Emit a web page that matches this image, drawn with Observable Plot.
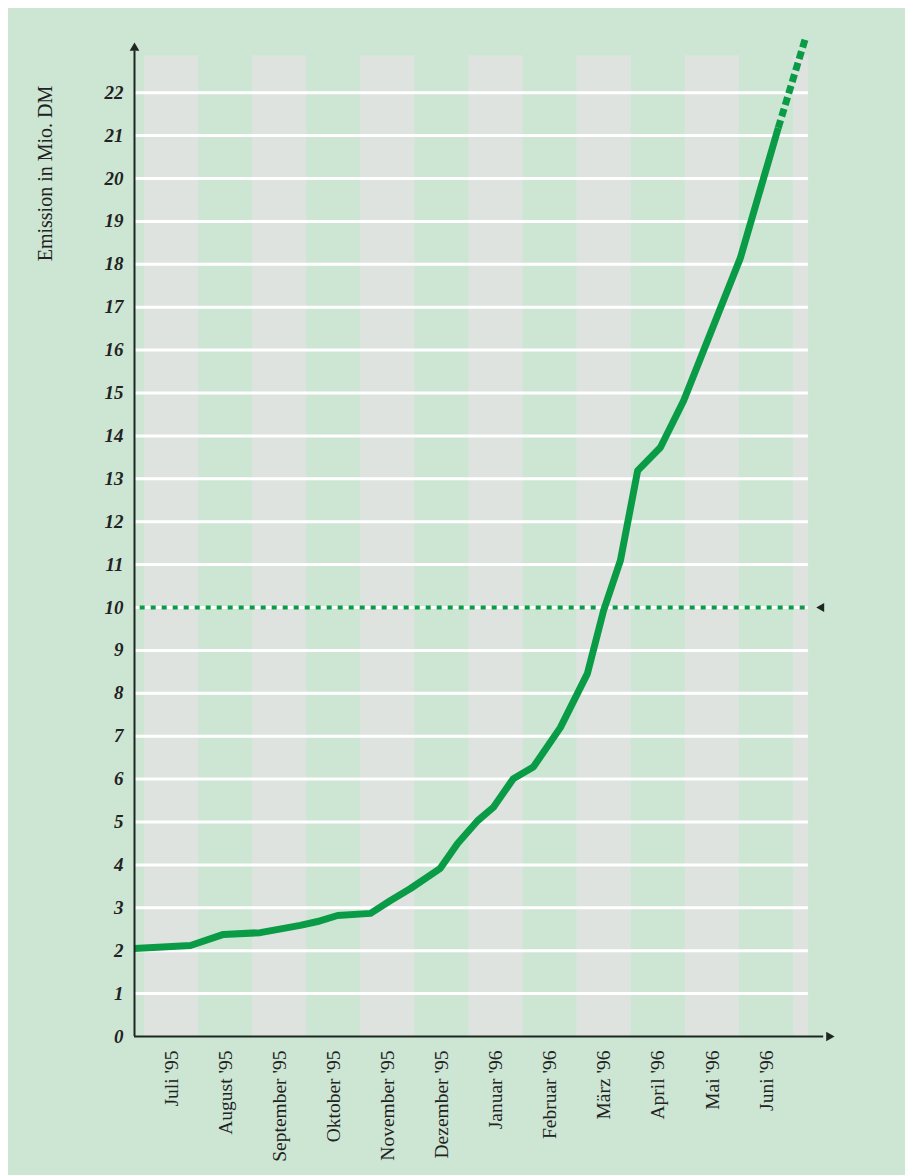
<!DOCTYPE html>
<html>
<head>
<meta charset="utf-8">
<script src="https://cdn.jsdelivr.net/npm/d3@7"></script>
<script src="https://cdn.jsdelivr.net/npm/@observablehq/plot@0.6"></script>
<style>
  html, body { margin: 0; padding: 0; background: #ffffff; }
  #chart { position: absolute; left: 8px; top: 8px; }
  #chart svg { display: block; background: #cde6d4; }
</style>
</head>
<body>
<div id="chart"></div>
<script>
// ---- data ----
const months = ["Juli '95", "August '95", "September '95", "Oktober '95", "November '95", "Dezember '95",
                "Januar '96", "Februar '96", "März '96", "April '96", "Mai '96", "Juni '96"];
// position in months from start of Juli '95 (0 = 1 July 1995)
const time = [-0.185, 0.85, 1.46, 2.14, 2.88, 3.2, 3.57, 4.18, 4.55, 4.92, 5.47, 5.79, 6.16, 6.45,
              6.82, 7.19, 7.69, 8.19, 8.49, 8.8, 9.12, 9.54, 9.97, 11.02, 11.72];
const emission = [2.05, 2.12, 2.38, 2.42, 2.59, 2.68, 2.82, 2.87, 3.17, 3.45, 3.92, 4.5, 5.03, 5.34,
                  6.01, 6.28, 7.2, 8.46, 9.93, 11.09, 13.19, 13.73, 14.82, 18.15, 21.18];
const projTime = [11.72, 12.22];
const projEmission = [21.18, 23.26];
const target = 10;
const yTicks = d3.range(0, 23);
const gridValues = d3.range(1, 23);

// ---- layout constants ----
const X0 = -0.185, X1 = 12.76, YTOP = 23.17;
const gridEnd = 12.28, bandTop = 22.86;
const serif = "'Liberation Serif', 'DejaVu Serif', serif";
const ink = "#1f2622";
const textInk = "#222222";
const green = "#0a9b46";

const series = time.map((t, i) => ({t, v: emission[i]}));
const proj = projTime.map((t, i) => ({t, v: projEmission[i]}));
const bands = months.map((m, i) => i).filter(i => i % 2 === 0).map(i => ({x1: i, x2: i + 1}));
bands.push({x1: 12, x2: gridEnd});

const plot = Plot.plot({
  width: 897,
  height: 1167,
  marginLeft: 126,
  marginRight: 71,
  marginTop: 34,
  marginBottom: 139,
  style: {background: "#cde6d4", color: textInk},
  x: {domain: [X0, X1]},
  y: {domain: [0, YTOP]},
  marks: [
    Plot.rect(bands, {x1: "x1", x2: "x2", y1: 0, y2: bandTop, fill: "#dfe3e0"}),
    Plot.ruleY(gridValues, {x1: X0, x2: gridEnd, stroke: "#ffffff", strokeWidth: 3}),
    Plot.ruleY([target], {x1: -0.08, x2: gridEnd, stroke: green, strokeWidth: 4, strokeDasharray: "5,6"}),
    Plot.dot([target], {x: 12.52, y: d => d, symbol: "triangle", rotate: -90, r: 3.4, fill: ink, stroke: null}),
    Plot.line(proj, {x: "t", y: "v", stroke: green, strokeWidth: 7, strokeDasharray: "8,4", strokeLinecap: "butt"}),
    Plot.line(series, {x: "t", y: "v", stroke: green, strokeWidth: 7, strokeLinejoin: "round", strokeLinecap: "butt"}),
    // axes lines with arrow heads
    Plot.ruleX([X0], {y1: 0, y2: YTOP - 0.2, stroke: ink, strokeWidth: 2}),
    Plot.ruleY([0], {x1: X0, x2: X1 - 0.2, stroke: ink, strokeWidth: 2}),
    Plot.dot([X0], {x: d => d, y: YTOP, symbol: "triangle", r: 3.6, fill: ink, stroke: null, dy: 5.5}),
    Plot.dot([0], {x: X1, y: d => d, symbol: "triangle", rotate: 90, r: 3.6, fill: ink, stroke: null, dx: -5.5}),
    Plot.axisY({ticks: yTicks, tickSize: 0, tickPadding: 11, tickFormat: d => String(d), label: null,
                fontSize: 19, fontFamily: serif, fontStyle: "italic", fontWeight: "bold", fill: textInk}),
    Plot.axisX({ticks: months.map((m, i) => i + 0.5), tickFormat: d => months[Math.floor(d)],
                tickRotate: -90, tickSize: 0, tickPadding: 14, label: null,
                fontSize: 19.5, fontFamily: serif, fill: textInk}),
    Plot.text(["Emission in Mio. DM"], {frameAnchor: "top-left", dx: -89, dy: 131, rotate: -90,
                textAnchor: "middle", lineAnchor: "middle", fontSize: 20, fontFamily: serif, fill: textInk})
  ]
});
document.getElementById("chart").appendChild(plot);
</script>
</body>
</html>
